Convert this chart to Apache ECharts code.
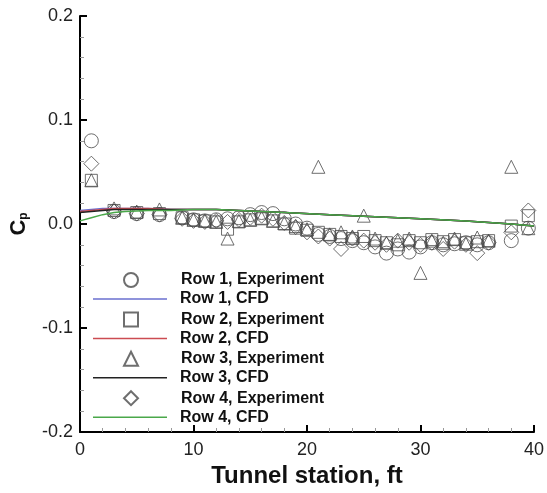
<!DOCTYPE html>
<html>
<head>
<meta charset="utf-8">
<script src="https://cdn.jsdelivr.net/npm/echarts@6/dist/echarts.min.js"></script>
<style>
  html, body { margin: 0; padding: 0; background: #fff; }
  #chart { width: 547px; height: 493px; }
</style>
</head>
<body>
<div id="chart"></div>
<script>
// tunnel stations (ft) of the pressure taps
var stations = [1, 3, 5, 7, 9, 10, 11, 12, 13, 14, 15, 16, 17, 18, 19, 20, 21, 22, 23, 24, 25, 26, 27, 28, 29, 30, 31, 32, 33, 34, 35, 36, 38, 39.5];

var row1Exp = [0.080, 0.012, 0.010, 0.009, 0.006, 0.004, 0.003, 0.004, 0.005, 0.006, 0.009, 0.011, 0.010, 0.005, 0.000, -0.004, -0.010, -0.012, -0.014, -0.016, -0.018, -0.022, -0.028, -0.024, -0.027, -0.022, -0.018, -0.020, -0.019, -0.018, -0.020, -0.018, -0.016, -0.004];
var row2Exp = [0.042, 0.013, 0.011, 0.010, 0.006, 0.004, 0.003, 0.002, -0.005, 0.002, 0.004, 0.005, 0.003, 0.000, -0.004, -0.006, -0.008, -0.010, -0.012, -0.014, -0.012, -0.016, -0.018, -0.020, -0.016, -0.018, -0.015, -0.017, -0.015, -0.018, -0.017, -0.016, -0.002, 0.008];
var row3Exp = [0.042, 0.015, 0.012, 0.014, 0.006, 0.004, 0.003, 0.002, -0.014, 0.003, 0.004, 0.006, 0.003, 0.001, -0.002, -0.005, 0.055, -0.010, -0.008, -0.012, 0.008, -0.014, -0.018, -0.016, -0.014, -0.047, -0.016, -0.018, -0.014, -0.019, -0.013, -0.016, 0.055, -0.004];
var row4Exp = [0.058, 0.012, 0.010, 0.009, 0.005, 0.003, 0.002, 0.003, 0.002, 0.004, 0.006, 0.008, 0.005, 0.001, -0.003, -0.008, -0.012, -0.014, -0.024, -0.014, -0.016, -0.018, -0.020, -0.016, -0.018, -0.020, -0.018, -0.024, -0.017, -0.020, -0.028, -0.018, -0.008, 0.013];

// CFD stations (ft)
var cfdX = [0, 1, 2, 3, 4, 6, 8, 10, 12, 14, 18, 22, 26, 30, 34, 38, 40];
var row1Cfd = [0.013, 0.014, 0.015, 0.015, 0.015, 0.015, 0.014, 0.014, 0.014, 0.013, 0.011, 0.009, 0.007, 0.005, 0.003, 0.000, -0.002];
var row2Cfd = [0.012, 0.013, 0.014, 0.015, 0.015, 0.015, 0.014, 0.014, 0.014, 0.013, 0.011, 0.009, 0.007, 0.005, 0.003, 0.000, -0.002];
var row3Cfd = [0.011, 0.012, 0.013, 0.014, 0.014, 0.014, 0.014, 0.014, 0.014, 0.013, 0.011, 0.009, 0.007, 0.005, 0.003, 0.000, -0.002];
var row4Cfd = [0.003, 0.006, 0.009, 0.011, 0.012, 0.013, 0.013, 0.014, 0.014, 0.013, 0.011, 0.009, 0.007, 0.005, 0.003, 0.000, -0.002];

var expNames = ['Row 1, Experiment', 'Row 2, Experiment', 'Row 3, Experiment', 'Row 4, Experiment'];
var cfdNames = ['Row 1, CFD', 'Row 2, CFD', 'Row 3, CFD', 'Row 4, CFD'];

function pairs(xs, ys) {
    return xs.map(function (x, i) { return [x, ys[i]]; });
}

function expSeries(name, ys, symbol, size) {
    return {
        name: name,
        type: 'scatter',
        symbol: symbol,
        symbolSize: size,
        data: pairs(stations, ys),
        itemStyle: { color: 'rgba(0,0,0,0)', borderColor: '#4a4a4a', borderWidth: 1 },
        emphasis: { disabled: true }
    };
}

function cfdSeries(name, ys, color) {
    return {
        name: name,
        type: 'line',
        showSymbol: false,
        symbol: 'none',
        data: pairs(cfdX, ys),
        color: color,
        lineStyle: { color: color, width: 1.5 },
        emphasis: { disabled: true }
    };
}

var legendText = {
    fontSize: 16,
    fontWeight: 'bold',
    color: '#111',
    lineHeight: 16
};

var myChart = echarts.init(document.getElementById('chart'));

var option = {
    backgroundColor: '#fff',
    animation: false,
    textStyle: { fontFamily: 'Liberation Sans, Arial, sans-serif' },
    grid: { left: 74, right: 11, top: 16, bottom: 57 },
    legend: [
        {
            // experiment symbols
            orient: 'vertical',
            left: 123,
            top: 272,
            padding: 0,
            itemWidth: 14,
            itemHeight: 14,
            itemGap: 23.4,
            data: expNames,
            textStyle: Object.assign({ padding: [0, 0, 0, 38] }, legendText)
        },
        {
            // CFD lines
            orient: 'vertical',
            left: 93,
            top: 291,
            padding: 0,
            itemWidth: 74,
            itemHeight: 1.5,
            itemGap: 23.4,
            icon: 'rect',
            data: cfdNames,
            textStyle: Object.assign({ padding: [0, 0, 0, 8] }, legendText)
        }
    ],
    xAxis: {
        type: 'value',
        min: 0,
        max: 40,
        interval: 10,
        name: 'Tunnel station, ft',
        nameLocation: 'middle',
        nameGap: 32,
        nameTextStyle: { fontSize: 24, fontWeight: 'bold', color: '#111' },
        axisLine: { onZero: false, lineStyle: { color: '#000', width: 2 } },
        axisTick: { inside: true, length: 7, lineStyle: { color: '#000', width: 2 } },
        minorTick: { show: true, splitNumber: 5, length: 4, lineStyle: { color: '#999', width: 1 } },
        axisLabel: { fontSize: 18, color: '#222', margin: 9 },
        splitLine: { show: false }
    },
    yAxis: {
        type: 'value',
        min: -0.2,
        max: 0.2,
        interval: 0.1,
        name: '{c|C}{p|p}',
        nameLocation: 'middle',
        nameRotate: 90,
        nameGap: 50,
        nameTextStyle: {
            rich: {
                c: { fontSize: 22, fontWeight: 'bold', color: '#111' },
                p: { fontSize: 12, fontWeight: 'bold', color: '#111', padding: [10, 0, 0, 0] }
            }
        },
        axisLine: { onZero: false, lineStyle: { color: '#000', width: 2 } },
        axisTick: { inside: true, length: 7, lineStyle: { color: '#000', width: 2 } },
        minorTick: { show: true, splitNumber: 5, length: 4, lineStyle: { color: '#999', width: 1 } },
        axisLabel: {
            fontSize: 18,
            color: '#222',
            margin: 7,
            formatter: function (v) { return v.toFixed(1); }
        },
        splitLine: { show: false }
    },
    series: [
        expSeries(expNames[0], row1Exp, 'circle', 14),
        cfdSeries(cfdNames[0], row1Cfd, '#6a6fcf'),
        expSeries(expNames[1], row2Exp, 'rect', 12),
        cfdSeries(cfdNames[1], row2Cfd, '#cc4b52'),
        expSeries(expNames[2], row3Exp, 'triangle', 13),
        cfdSeries(cfdNames[2], row3Cfd, '#222222'),
        expSeries(expNames[3], row4Exp, 'diamond', 15),
        cfdSeries(cfdNames[3], row4Cfd, '#4aa84a')
    ]
};

myChart.setOption(option);
</script>
</body>
</html>
